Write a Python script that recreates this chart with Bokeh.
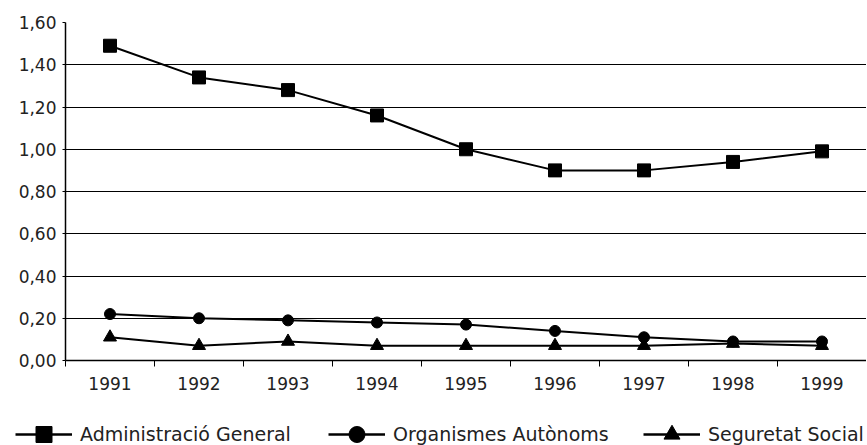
from bokeh.plotting import figure
from bokeh.layouts import column
from bokeh.models import FixedTicker, CustomJSTickFormatter, Legend, LegendItem, Range1d
from bokeh.embed import file_html
from bokeh.resources import INLINE

years = ["1991", "1992", "1993", "1994", "1995", "1996", "1997", "1998", "1999"]
admin_general = [1.49, 1.34, 1.28, 1.16, 1.00, 0.90, 0.90, 0.94, 0.99]
organismes = [0.22, 0.20, 0.19, 0.18, 0.17, 0.14, 0.11, 0.09, 0.09]
seguretat = [0.11, 0.07, 0.09, 0.07, 0.07, 0.07, 0.07, 0.08, 0.07]
y_ticks = [0.0, 0.2, 0.4, 0.6, 0.8, 1.0, 1.2, 1.4, 1.6]
labels = ["Administració General", "Organismes Autònoms", "Seguretat Social"]
markers = ["square", "circle", "triangle"]

FONT = "DejaVu Sans"
TXT = "#222222"

x = list(range(1, len(years) + 1))

p = figure(width=866, height=400, output_backend="svg", toolbar_location=None,
           x_range=Range1d(0.5, len(years) + 0.5), y_range=Range1d(0, 1.6))
p.min_border_left = 65
p.min_border_right = 0
p.min_border_top = 22
p.min_border_bottom = 40
p.outline_line_color = None
p.background_fill_color = "white"
p.border_fill_color = "white"

# Axes
p.xaxis.ticker = FixedTicker(ticks=x, minor_ticks=[i + 0.5 for i in range(0, len(years) + 1)])
p.xaxis.major_label_overrides = {i: y for i, y in zip(x, years)}
p.xaxis.major_tick_line_color = None
p.xaxis.minor_tick_line_color = "black"
p.xaxis.minor_tick_out = 6
p.xaxis.minor_tick_in = 0
p.xaxis.axis_line_color = "black"
p.xaxis.axis_line_width = 1.5
p.xaxis.major_label_standoff = 10

p.yaxis.ticker = FixedTicker(ticks=y_ticks)
p.yaxis.formatter = CustomJSTickFormatter(code="return tick.toFixed(2).replace('.', ',');")
p.yaxis.minor_tick_line_color = None
p.yaxis.major_tick_out = 3
p.yaxis.major_tick_in = 0
p.yaxis.major_tick_line_color = "black"
p.yaxis.axis_line_color = "black"
p.yaxis.axis_line_width = 1.5
p.yaxis.major_label_standoff = 6

for ax in (p.xaxis, p.yaxis):
    ax.major_label_text_font = FONT
    ax.major_label_text_font_size = "17px"
    ax.major_label_text_color = TXT

p.xgrid.grid_line_color = None
p.ygrid.grid_line_color = "black"
p.ygrid.grid_line_width = 1

# Series
series = [admin_general, organismes, seguretat]
sizes = [13, 11, 13]
for vals, mk, sz in zip(series, markers, sizes):
    p.line(x, vals, line_color="black", line_width=2)
    p.scatter(x, vals, marker=mk, size=sz, fill_color="black", line_color="black")

# Legend strip (its renderers sit outside the visible range; only their legend glyphs show)
lg = figure(width=866, height=45, output_backend="svg", toolbar_location=None,
            x_range=Range1d(0, 1), y_range=Range1d(0, 1), min_border=0,
            x_axis_type=None, y_axis_type=None)
lg.grid.visible = False
lg.outline_line_color = None
xpos = [15, 328, 643]
for lab, mk, sz, xp in zip(labels, markers, sizes, xpos):
    r1 = lg.line([-5, -4], [-5, -4], line_color="black", line_width=2.5)
    r2 = lg.scatter([-5], [-5], marker=mk, size=sz, fill_color="black", line_color="black")
    leg = Legend(items=[LegendItem(label=lab, renderers=[r1, r2])], location=(xp, -9),
                 orientation="horizontal", glyph_width=57, glyph_height=40,
                 label_text_font=FONT, label_text_font_size="19px", label_text_color=TXT,
                 label_standoff=8, padding=0, margin=0, border_line_color=None,
                 background_fill_alpha=0)
    lg.add_layout(leg, "center")

open("out.html", "w").write(file_html(column(p, column(lg, spacing=0), spacing=0), INLINE))
